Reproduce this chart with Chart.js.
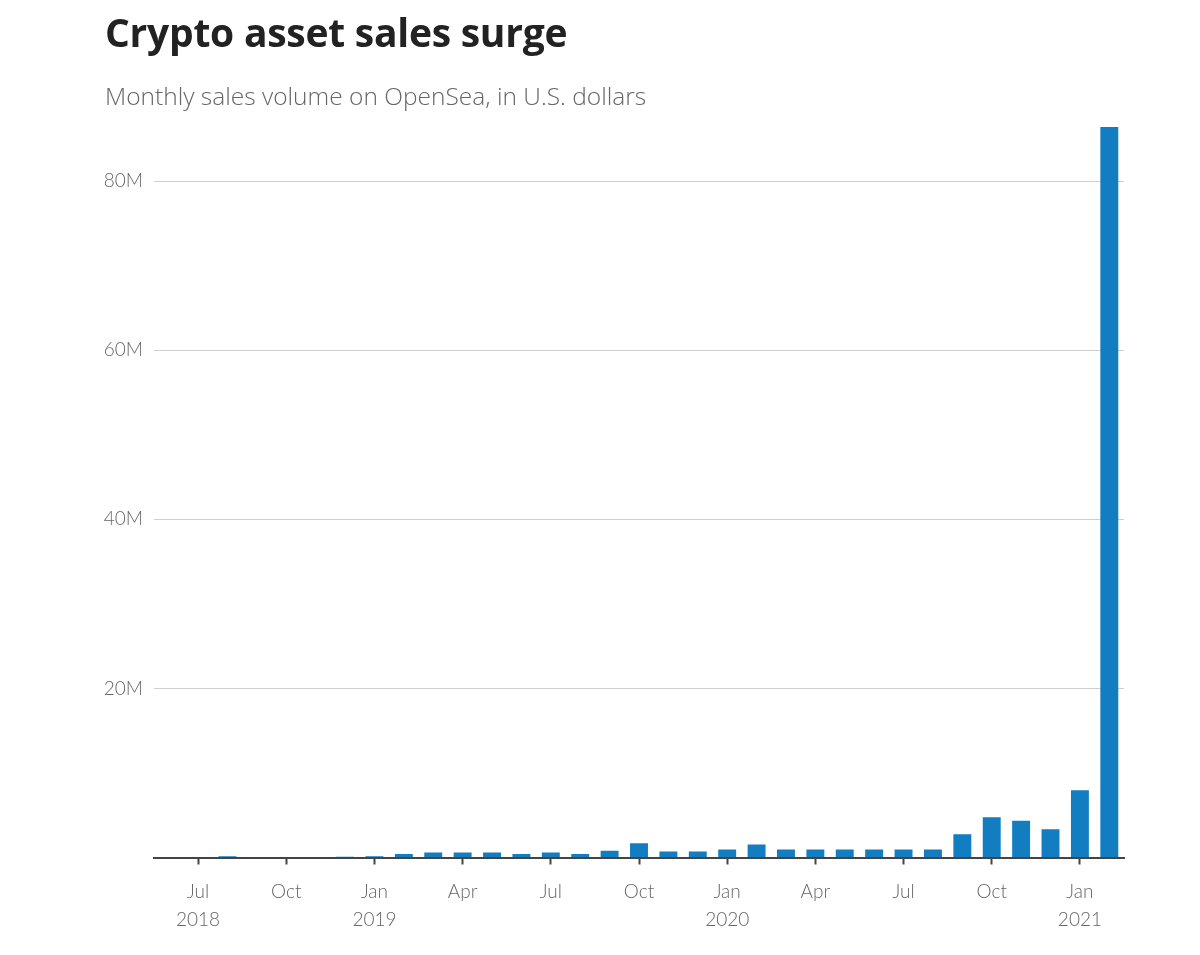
<!DOCTYPE html>
<html>
<head>
<meta charset="utf-8">
<script src="https://cdn.jsdelivr.net/npm/chart.js@4"></script>
<style>
  html, body { margin: 0; padding: 0; background: #fff; }
  #wrap { position: relative; width: 1200px; height: 955px; }
  #title { position: absolute; left: 105px; top: 12px; font: 700 39px/1 "Open Sans", Lato, sans-serif; color: #222; white-space: nowrap; letter-spacing: -0.25px; }
  #subtitle { position: absolute; left: 105px; top: 84px; font: 300 24.5px/1 "Open Sans", Lato, sans-serif; color: #666; white-space: nowrap; letter-spacing: 0px; }
  canvas { position: absolute; left: 0; top: 0; }
</style>
</head>
<body>
<div id="wrap">
  <canvas id="c" width="1200" height="955"></canvas>
  <div id="title">Crypto asset sales surge</div>
  <div id="subtitle">Monthly sales volume on OpenSea, in U.S. dollars</div>
</div>
<script>
// Months from Jun 2018 to Feb 2021
const months = ["Jun","Jul","Aug","Sep","Oct","Nov","Dec",
  "Jan","Feb","Mar","Apr","May","Jun","Jul","Aug","Sep","Oct","Nov","Dec",
  "Jan","Feb","Mar","Apr","May","Jun","Jul","Aug","Sep","Oct","Nov","Dec",
  "Jan","Feb"];
const years = [2018,2018,2018,2018,2018,2018,2018,
  2019,2019,2019,2019,2019,2019,2019,2019,2019,2019,2019,2019,
  2020,2020,2020,2020,2020,2020,2020,2020,2020,2020,2020,2020,
  2021,2021];
// Monthly sales volume, millions of U.S. dollars
const salesMillions = [0, 0, 0.15, 0, 0, 0, 0.1,
  0.15, 0.4, 0.6, 0.6, 0.6, 0.4, 0.6, 0.4, 0.8, 1.7, 0.7, 0.7,
  0.95, 1.55, 0.95, 0.95, 0.95, 0.95, 0.95, 0.95, 2.75, 4.75, 4.35, 3.35,
  7.95, 86.4];
const yTickValues = [0, 20, 40, 60, 80];
const shownMonths = ["Jan","Apr","Jul","Oct"];
const yearLabelAt = [1]; // first Jul gets year label too

function isShown(i) { return shownMonths.includes(months[i]); }
function tickLabel(i) {
  if (!isShown(i)) return '';
  if (months[i] === 'Jan' || yearLabelAt.includes(i)) return [months[i], String(years[i])];
  return months[i];
}

new Chart(document.getElementById('c'), {
  type: 'bar',
  data: {
    labels: months.map((m, i) => m + ' ' + years[i]),
    datasets: [{
      data: salesMillions,
      backgroundColor: '#127dc1',
      barPercentage: 0.61,
      categoryPercentage: 1.0
    }]
  },
  options: {
    responsive: false,
    animation: false,
    layout: { padding: { top: 127, right: 76, bottom: 0, left: 0 } },
    plugins: { legend: { display: false }, tooltip: { enabled: false }, title: { display: false } },
    scales: {
      x: {
        afterFit: s => { s.height = 97.5; },
        border: { display: true, color: '#444', width: 2 },
        grid: {
          offset: false,
          drawOnChartArea: false, drawTicks: true, tickLength: 7, tickWidth: 2,
          tickColor: ctx => isShown(ctx.index) ? '#444' : 'rgba(0,0,0,0)'
        },
        ticks: {
          autoSkip: false, maxRotation: 0, minRotation: 0, padding: 13,
          color: '#666',
          font: { family: 'Lato, "Noto Sans", sans-serif', size: 19, weight: 300, lineHeight: 1.5 },
          callback: (v, i) => tickLabel(i)
        }
      },
      y: {
        min: 0, max: 86.4,
        afterFit: s => { s.width = 154; },
        afterBuildTicks: s => { s.ticks = yTickValues.map(v => ({ value: v })); },
        border: { display: false },
        grid: {
          drawTicks: false,
          color: ctx => ctx.tick && ctx.tick.value === 0 ? 'rgba(0,0,0,0)' : '#cfcfcf',
          lineWidth: 1
        },
        ticks: {
          padding: 11, color: '#666',
          font: { family: 'Lato, "Noto Sans", sans-serif', size: 19, weight: 300 },
          callback: v => v === 0 ? '' : v + 'M'
        }
      }
    }
  }
});
</script>
</body>
</html>
